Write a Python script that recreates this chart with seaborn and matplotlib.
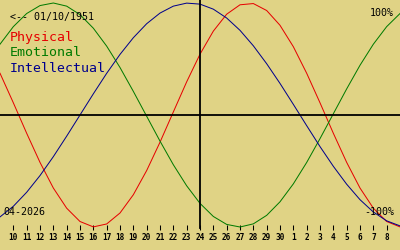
import matplotlib
matplotlib.use("Agg")
import matplotlib.pyplot as plt
import pandas as pd
import seaborn as sns

# ---- data ----
days = list(range(9, 40))
physical = [0.373, 0.109, -0.163, -0.423, -0.652, -0.832, -0.951, -0.999, -0.973, -0.875,
            -0.712, -0.496, -0.243, 0.027, 0.296, 0.543, 0.749, 0.900, 0.984, 0.995,
            0.933, 0.801, 0.610, 0.373, 0.109, -0.163, -0.423, -0.652, -0.832, -0.951, -0.999]
emotional = [0.632, 0.789, 0.906, 0.977, 1.000, 0.972, 0.896, 0.775, 0.615, 0.424,
             0.211, -0.011, -0.233, -0.444, -0.632, -0.789, -0.906, -0.977, -1.000, -0.972,
             -0.896, -0.775, -0.615, -0.424, -0.211, 0.011, 0.233, 0.444, 0.632, 0.789, 0.906]
intellectual = [-0.910, -0.815, -0.690, -0.541, -0.372, -0.189, 0.000, 0.189, 0.372, 0.541,
                0.690, 0.815, 0.910, 0.972, 0.999, 0.990, 0.945, 0.866, 0.756, 0.618,
                0.458, 0.282, 0.095, -0.095, -0.282, -0.458, -0.618, -0.756, -0.866, -0.945, -0.990]
series_names = ["Physical", "Emotional", "Intellectual"]
tick_days = list(range(10, 39))
tick_labels = ["10", "11", "12", "13", "14", "15", "16", "17", "18", "19", "20",
               "21", "22", "23", "24", "25", "26", "27", "28", "29", "30",
               "1", "2", "3", "4", "5", "6", "7", "8"]
today = 24
birth_label = "<-- 01/10/1951"
month_label = "04-2026"
top_label = "100%"
bottom_label = "-100%"

# ---- style ----
bg = "#E0D385"
colors = {"Physical": "#E60000", "Emotional": "#007A00", "Intellectual": "#00008C"}
plt.rcParams["font.family"] = ["DejaVu Sans Mono", "DejaVu Sans"]

df = pd.DataFrame({
    "day": days * 3,
    "value": physical + emotional + intellectual,
    "series": [series_names[0]] * len(days) + [series_names[1]] * len(days) + [series_names[2]] * len(days),
})

fig = plt.figure(figsize=(4, 2.5), dpi=100)
fig.patch.set_facecolor(bg)
ax = fig.add_axes([0, 0, 1, 1])
ax.set_facecolor(bg)

sns.lineplot(data=df, x="day", y="value", hue="series", hue_order=series_names,
             palette=colors, legend=False, ax=ax, linewidth=0.72, antialiased=True)

ax.set_xlim(9, 39)
ax.set_ylim(-1.2054, 1.0268)

ax.axhline(0, color="black", lw=1.3)
ax.axvline(today, ymin=22 / 250, ymax=1, color="black", lw=1.3)

for sp in ax.spines.values():
    sp.set_visible(False)
ax.spines["bottom"].set_position(("data", -0.982))
ax.set_xticks(tick_days)
ax.set_xticklabels(tick_labels, fontsize=5.6, fontweight="bold")
ax.tick_params(axis="x", direction="out", length=3.6, width=0.75, pad=2.5, colors="black")
ax.set_yticks([])
ax.set_xlabel("")
ax.set_ylabel("")

def px(x, y):
    return x / 400, 1 - y / 250

fig.text(*px(10, 17), birth_label, fontsize=7.2, va="center", ha="left", color="black")
for name, y in zip(series_names, [38, 53, 68]):
    fig.text(*px(10, y), name, fontsize=9.5, va="center", ha="left", color=colors[name])
fig.text(*px(394, 13), top_label, fontsize=7.2, va="center", ha="right", color="black")
fig.text(*px(394, 212), bottom_label, fontsize=7.2, va="center", ha="right", color="black")
fig.text(*px(3, 212), month_label, fontsize=7.2, va="center", ha="left", color="black")

fig.savefig("out.png", dpi=100, facecolor=bg)
